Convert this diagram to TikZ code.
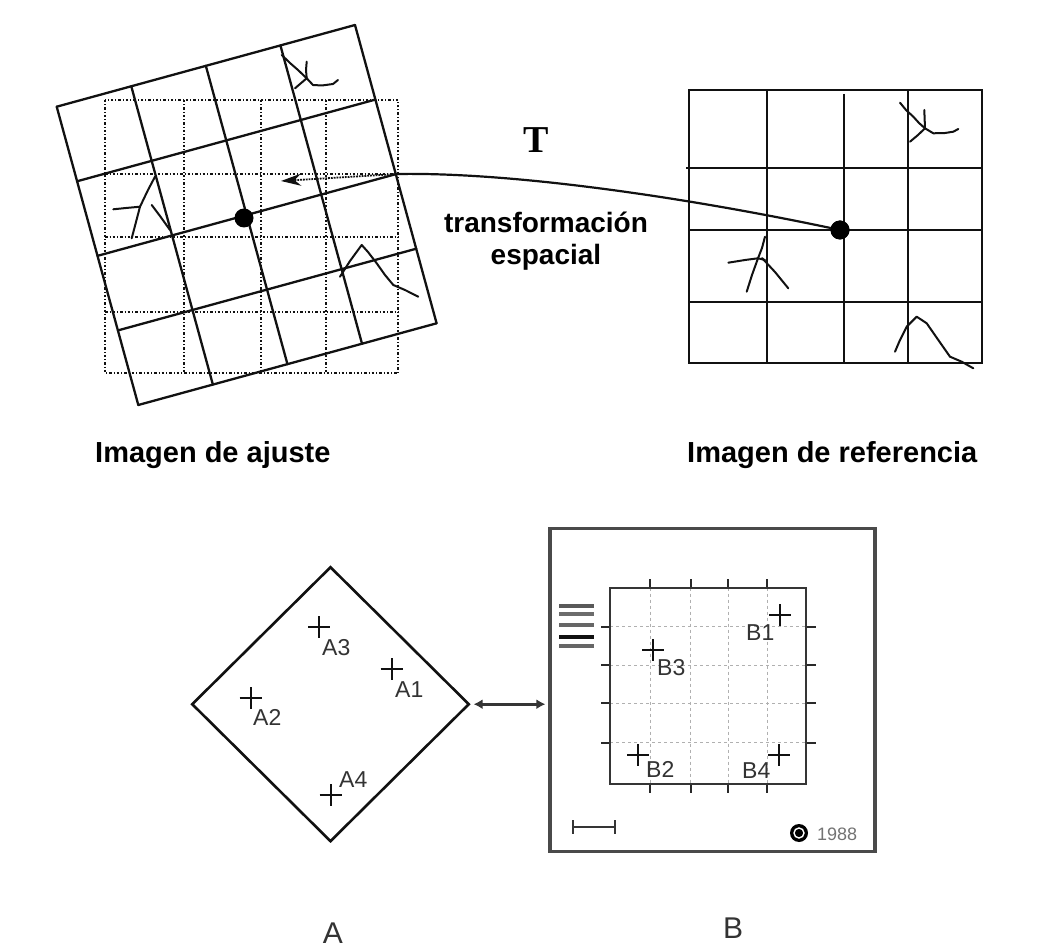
\documentclass[tikz,border=0pt]{standalone}
\usepackage{fontspec}
\setmainfont{Liberation Sans}
\newfontfamily\serifface{Liberation Serif}
\usetikzlibrary{arrows.meta,shapes.geometric}
\definecolor{ink}{HTML}{111111}
\definecolor{txtgray}{HTML}{333333}
\definecolor{boxgray}{HTML}{4A4A4A}
\definecolor{faint}{HTML}{B0B0B0}
\begin{document}
\begin{tikzpicture}[x=1pt,y=-1pt,
  rgrid/.style={line width=2.3pt, draw=ink, line cap=round, line join=round},
  dgrid/.style={line width=1.8pt, draw=ink, dash pattern=on 2.5pt off 2pt on 1pt off 2pt},
  refgrid/.style={line width=2.6pt, draw=ink},
  feat/.style={line width=2pt, draw=ink, line join=round, line cap=round},
  dot/.style={circle, fill=black, inner sep=0pt, minimum size=19pt},
  toplabel/.style={font=\fontsize{29}{34}\selectfont\bfseries, inner sep=0pt},
  midlabel/.style={font=\fontsize{28}{33}\selectfont\bfseries, inner sep=0pt, anchor=base},
  Tlabel/.style={font=\serifface\bfseries\fontsize{38}{44}\selectfont, inner sep=0pt, anchor=base},
  ptlabel/.style={font=\fontsize{23}{26}\selectfont, text=txtgray, inner sep=0pt, anchor=base west},
  panellabel/.style={font=\fontsize{30}{34}\selectfont, text=txtgray, inner sep=0pt, anchor=base},
  plusmark/.pic={\draw[line width=1.9pt, draw=ink] (-11,0) -- (11,0) (0,-11) -- (0,11);},
  tick/.style={line width=2.3pt, draw=ink!90},
]
\path[use as bounding box, fill=white] (0,0) rectangle (1042,949);

% ---------- adjusted image: axis-aligned dash-dot grid ----------
\draw[dgrid] (105,100) rectangle (398.3,373.3);
\foreach \gx in {184,260.7,326} \draw[dgrid] (\gx,100) -- (\gx,373.3);
\foreach \gy in {174,237.3,312.3} \draw[dgrid] (105,\gy) -- (398.3,\gy);

% ---------- adjusted image: rotated 4x4 grid ----------
\begin{scope}[shift={(56.7,106.7)}, x={(298.3pt,81.7pt)}, y={(81.6pt,-298.3pt)}]
  \foreach \t in {0,0.25,0.5,0.75,1} {
    \draw[rgrid] (\t,0) -- (\t,1);
    \draw[rgrid] (0,\t) -- (1,\t);
  }
\end{scope}

% features in the adjusted image
\draw[feat] (281.7,55) -- (290,63) -- (298,70) -- (306.7,78.3) -- (313,85) -- (322,85.5) -- (333,84) -- (338,80);
\draw[feat] (306.7,61.7) -- (306,70) -- (306.7,78.3);
\draw[feat] (306.7,78.3) -- (300,84) -- (295,88.3);
\draw[feat] (113.3,209.3) -- (126,208) -- (140,206.7);
\draw[feat] (155,176.7) -- (148,190) -- (140,206.7) -- (136,222) -- (131.7,238.3);
\draw[feat] (151.7,205) -- (160,216) -- (170,230);
\draw[feat] (340,276.7) -- (350,261) -- (361.7,245) -- (368,252) -- (376.7,263.3) -- (385,275) -- (393.3,285) -- (405,290) -- (418.3,296.7);

% ---------- reference image grid ----------
\draw[refgrid] (689,90) rectangle (982,363);
\foreach \gx in {767,908} \draw[refgrid] (\gx,90) -- (\gx,363);
\draw[refgrid] (844,94) -- (844,363);
\foreach \gy in {230,302} \draw[refgrid] (689,\gy) -- (982,\gy);
\draw[refgrid] (686,168) -- (982,168);

% features in the reference image
\draw[feat] (900,102.7) -- (906,110) -- (913.3,116.7) -- (919,123) -- (925,128.3) -- (933.3,133.3) -- (945,133) -- (953.3,131.7) -- (958.3,129);
\draw[feat] (924.3,110) -- (925,128.3);
\draw[feat] (925,128.3) -- (918,135) -- (910,141.7);
\draw[feat] (728.3,262.7) -- (745,260) -- (758,258.3) -- (765,260);
\draw[feat] (765,236.7) -- (762,248) -- (758,258.3) -- (752,275) -- (746.7,291.7);
\draw[feat] (762,258) -- (775,272) -- (788.3,288.3);
\draw[feat] (895,351.7) -- (900,340) -- (906.7,326.7) -- (916.7,316.7) -- (926.7,323.3) -- (938.3,340) -- (950,356.7) -- (961.7,361.7) -- (973.3,368.3);

% ---------- spatial transformation T ----------
\node[dot] (pL) at (244,218) {};
\node[dot] (pR) at (840,230) {};
\coordinate (jn) at (397,174);
\coordinate (tipL) at (281,181);
\draw[line width=2.2pt, draw=ink] (pR.center) .. controls (700,200) and (520,172) .. (jn);
\draw[line width=1.8pt, draw=ink, densely dotted, -{Stealth[length=20pt,width=12pt]}] (jn) -- (tipL);
\node[dot] at (pR) {};

\node[Tlabel] (lblT) at (536,153) {T};
\node[midlabel] (lblTr1) at (546,233) {transformación};
\node[midlabel] (lblTr2) at (546,265) {espacial};

\node[toplabel, anchor=base west] (lblAj) at (95,463) {Imagen de ajuste};
\node[toplabel, anchor=base west] (lblRef) at (687,463) {Imagen de referencia};

% ---------- panel A ----------
\node[diamond, draw=ink, line width=2.6pt, minimum width=277.6pt, minimum height=275pt, inner sep=0pt] (diaA) at (330.5,704.2) {};
\coordinate (a3) at (319.3,627.3);
\coordinate (a1) at (391.7,669.3);
\coordinate (a2) at (250.7,698.3);
\coordinate (a4) at (330.7,795);
\foreach \c in {a1,a2,a3,a4} \pic at (\c) {plusmark};
\node[ptlabel] (lA3) at (322,655) {A3};
\node[ptlabel] (lA1) at (395,697) {A1};
\node[ptlabel] (lA2) at (253,725) {A2};
\node[ptlabel] (lA4) at (339,787) {A4};

% ---------- panel B ----------
\node[draw=boxgray, line width=3.2pt, minimum width=325pt, minimum height=323pt, inner sep=0pt] (boxB) at (712.5,690) {};
\foreach \gx in {650,690.7,728.3,767.3} {
  \draw[faint, line width=0.9pt, dashed] (\gx,587.7) -- (\gx,784);
  \draw[tick] (\gx,579) -- (\gx,587.7);
  \draw[tick] (\gx,784) -- (\gx,793);
}
\foreach \gy in {626.7,665.3,703.3,742.7} {
  \draw[faint, line width=0.9pt, dashed] (610,\gy) -- (806,\gy);
  \draw[tick] (601,\gy) -- (610,\gy);
  \draw[tick] (806,\gy) -- (816,\gy);
}
\node[draw=ink!85, line width=2.4pt, minimum width=196pt, minimum height=196.3pt, inner sep=0pt] (gridB) at (708,685.85) {};

\foreach \ly/\lc in {606/gray!70!black, 614/gray!85!black, 625/gray!80!black, 637/ink, 646/gray!80!black}
  \draw[line width=3.3pt, draw=\lc] (559,\ly) -- (594,\ly);

\coordinate (b1) at (780,615);
\coordinate (b3) at (653.3,650);
\coordinate (b2) at (638.3,755);
\coordinate (b4) at (779.3,755);
\foreach \c in {b1,b2,b3,b4} \pic at (\c) {plusmark};
\node[ptlabel] (lB1) at (746,640) {B1};
\node[ptlabel] (lB3) at (657,675) {B3};
\node[ptlabel] (lB2) at (646,777) {B2};
\node[ptlabel] (lB4) at (742,778) {B4};

% scale bar
\coordinate (sbL) at (573,827);
\coordinate (sbR) at (615,827);
\draw[line width=2.6pt, draw=ink!85] (sbL) -- (sbR);
\draw[line width=2.6pt, draw=ink!85] (573,820) -- (573,834) (615,820) -- (615,834);

% copyright mark
\node[circle, fill=black, minimum size=18pt, inner sep=0pt] (copyM) at (799,833) {};
\node[circle, draw=white, line width=1.4pt, minimum size=10pt, inner sep=0pt] at (copyM) {};
\node[anchor=base west, inner sep=0pt, font=\fontsize{18}{20}\selectfont, text=gray!90!black] (yr) at (817,840) {1988};

% link between the two panels
\draw[line width=2.6pt, draw=ink!85, {Latex[length=9pt,width=10pt]}-{Latex[length=9pt,width=10pt]}, shorten <=3pt, shorten >=3pt] (diaA.east) -- (diaA.east -| boxB.west);

\node[panellabel] (lblA) at (333,943) {A};
\node[panellabel] (lblB) at (733,938) {B};
\end{tikzpicture}
\end{document}
